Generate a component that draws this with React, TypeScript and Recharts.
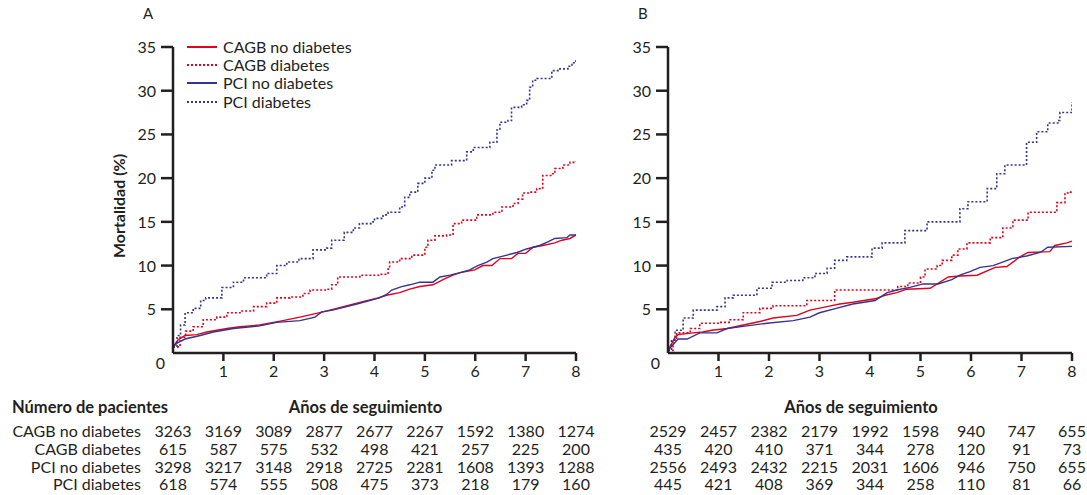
import { LineChart, Line, XAxis, YAxis, Label } from "recharts";

const FONT = "Lato, 'Noto Sans', sans-serif";
const INK = "#231f20";
const RED = "#e2001a";
const BLUE = "#34348f";

const yTicks = [0, 5, 10, 15, 20, 25, 30, 35];
const xTicks = [1, 2, 3, 4, 5, 6, 7, 8];
const years = [0, 1, 2, 3, 4, 5, 6, 7, 8];
const seriesNames = ["CAGB no diabetes", "CAGB diabetes", "PCI no diabetes", "PCI diabetes"];

// panel A: [años, mortalidad %]
const cagbNoDmA = [
  [0, 0.7], [0.1, 1.5], [0.24, 2.0], [0.47, 2.1], [0.67, 2.4], [1.07, 2.8], [1.33, 3.0], [1.72, 3.2],
  [2.18, 3.7], [2.52, 4.1], [2.98, 4.7], [3.65, 5.7], [4.07, 6.3], [4.24, 6.6], [4.5, 6.9], [4.7, 7.3],
  [4.9, 7.6], [5.16, 7.8], [5.4, 8.5], [5.56, 8.9], [5.7, 9.2], [5.99, 9.5], [6.15, 10.0], [6.33, 10.0],
  [6.49, 10.8], [6.72, 10.8], [6.85, 11.4], [7.0, 11.4], [7.15, 12.1], [7.34, 12.3], [7.58, 12.6],
  [7.72, 12.9], [7.88, 13.1], [8.0, 13.5],
];
const cagbDmA = [
  [0, 0.7], [0.14, 1.8], [0.25, 2.5], [0.4, 3.0], [0.6, 3.8], [0.87, 4.1], [1.07, 4.6], [1.33, 4.8],
  [1.6, 5.3], [1.86, 5.7], [2.06, 6.3], [2.32, 6.4], [2.58, 6.8], [2.72, 7.2], [3.08, 7.3], [3.15, 7.8],
  [3.27, 8.7], [3.71, 8.9], [4.1, 9.0], [4.27, 9.6], [4.3, 10.4], [4.5, 10.8], [4.74, 11.2], [5.0, 12.1],
  [5.06, 12.9], [5.2, 13.4], [5.43, 13.5], [5.56, 14.8], [5.73, 15.2], [6.03, 15.8], [6.35, 16.1],
  [6.53, 16.7], [6.75, 17.1], [6.85, 17.6], [6.94, 18.3], [7.08, 18.4], [7.22, 18.8], [7.34, 20.3],
  [7.52, 20.5], [7.58, 21.1], [7.74, 21.5], [7.88, 21.8], [8.0, 21.9],
];
const pciNoDmA = [
  [0, 0.7], [0.1, 1.2], [0.24, 1.6], [0.54, 2.0], [0.8, 2.4], [1.2, 2.8], [1.72, 3.1], [2.06, 3.5],
  [2.52, 3.7], [2.82, 4.1], [2.95, 4.7], [3.17, 4.9], [3.65, 5.6], [4.1, 6.3], [4.24, 6.7], [4.34, 7.2],
  [4.54, 7.6], [4.7, 7.8], [4.9, 8.1], [5.16, 8.1], [5.3, 8.7], [5.5, 8.9], [5.7, 9.2], [5.89, 9.5],
  [6.05, 10.0], [6.23, 10.4], [6.35, 10.8], [6.63, 11.2], [6.83, 11.5], [7.02, 11.9], [7.28, 12.3],
  [7.44, 12.7], [7.58, 13.1], [7.82, 13.2], [7.88, 13.5], [8.0, 13.5],
];
const pciDmA = [
  [0, 0.7], [0.08, 2.0], [0.15, 3.2], [0.24, 4.6], [0.4, 5.1], [0.55, 6.0], [0.65, 6.3], [0.97, 7.5],
  [1.2, 8.1], [1.4, 8.6], [1.86, 9.1], [2.06, 10.0], [2.26, 10.4], [2.5, 10.8], [2.78, 11.8], [3.05, 12.0],
  [3.15, 12.9], [3.4, 13.8], [3.58, 14.3], [3.7, 14.8], [3.97, 15.0], [4.0, 15.4], [4.17, 15.8],
  [4.27, 16.1], [4.5, 16.7], [4.6, 17.8], [4.7, 18.4], [4.86, 19.4], [5.0, 20.0], [5.14, 20.9],
  [5.2, 21.5], [5.53, 22.0], [5.83, 23.0], [5.96, 23.5], [6.29, 24.1], [6.43, 25.5], [6.49, 26.4],
  [6.65, 26.6], [6.72, 28.1], [6.92, 28.4], [7.02, 28.9], [7.08, 30.4], [7.14, 31.2], [7.22, 31.4],
  [7.52, 32.3], [7.68, 32.5], [7.84, 32.8], [7.92, 33.2], [8.0, 33.7],
];

// panel B
const cagbNoDmB = [
  [0, 0.3], [0.14, 1.8], [0.2, 2.1], [0.5, 2.3], [0.69, 2.4], [0.87, 2.6], [1.17, 2.8], [1.49, 3.2],
  [1.82, 3.6], [2.08, 4.0], [2.55, 4.3], [2.81, 4.9], [3.15, 5.3], [3.4, 5.6], [3.66, 5.8], [4.1, 6.2],
  [4.3, 6.6], [4.53, 6.9], [4.73, 7.3], [5.19, 7.4], [5.55, 8.7], [5.78, 8.8], [6.12, 8.9], [6.48, 9.8],
  [6.71, 9.9], [6.97, 11.0], [7.13, 11.5], [7.56, 11.6], [7.66, 12.3], [7.9, 12.6], [8.0, 12.8],
];
const cagbDmB = [
  [0, 0.3], [0.1, 1.5], [0.17, 2.3], [0.44, 2.8], [0.63, 3.4], [1.03, 3.5], [1.23, 3.8], [1.49, 4.6],
  [1.82, 5.1], [2.08, 5.4], [2.75, 6.0], [3.3, 7.2], [4.55, 7.6], [4.75, 8.0], [5.0, 8.7], [5.09, 9.6],
  [5.33, 10.0], [5.43, 10.6], [5.62, 11.2], [5.74, 11.9], [5.92, 12.6], [6.38, 13.2], [6.63, 14.3],
  [6.83, 15.2], [7.13, 16.1], [7.7, 17.2], [7.86, 18.3], [7.92, 18.4], [8.0, 18.6],
];
const pciNoDmB = [
  [0, 0.3], [0.2, 1.6], [0.38, 1.6], [0.63, 2.3], [0.97, 2.3], [1.17, 2.8], [1.56, 3.1], [1.96, 3.4],
  [2.48, 3.7], [2.81, 4.1], [3.0, 4.6], [3.33, 5.1], [3.66, 5.6], [4.1, 6.0], [4.34, 6.9], [4.53, 7.2],
  [4.79, 7.5], [5.05, 7.9], [5.35, 7.9], [5.62, 8.4], [5.78, 8.9], [5.98, 9.3], [6.18, 9.8], [6.44, 10.0],
  [6.81, 10.8], [7.1, 11.1], [7.37, 11.5], [7.52, 12.1], [8.0, 12.2],
];
const pciDmB = [
  [0, 0.3], [0.07, 1.5], [0.14, 2.6], [0.3, 4.0], [0.5, 4.9], [0.97, 5.3], [1.13, 6.3], [1.29, 6.6],
  [1.76, 7.4], [2.06, 8.1], [2.36, 8.3], [2.67, 8.6], [2.91, 9.1], [3.15, 9.7], [3.3, 10.6], [3.54, 11.0],
  [4.04, 12.0], [4.24, 12.6], [4.69, 14.0], [5.13, 15.0], [5.78, 16.5], [5.94, 17.3], [6.32, 18.8],
  [6.51, 20.5], [6.67, 21.5], [7.1, 24.1], [7.3, 25.3], [7.52, 26.3], [7.72, 26.6], [7.76, 27.5], [8.0, 28.7],
];

// número de pacientes por año
const nCagbNoDmA = [3263, 3169, 3089, 2877, 2677, 2267, 1592, 1380, 1274];
const nCagbDmA = [615, 587, 575, 532, 498, 421, 257, 225, 200];
const nPciNoDmA = [3298, 3217, 3148, 2918, 2725, 2281, 1608, 1393, 1288];
const nPciDmA = [618, 574, 555, 508, 475, 373, 218, 179, 160];
const nCagbNoDmB = [2529, 2457, 2382, 2179, 1992, 1598, 940, 747, 655];
const nCagbDmB = [435, 420, 410, 371, 344, 278, 120, 91, 73];
const nPciNoDmB = [2556, 2493, 2432, 2215, 2031, 1606, 946, 750, 655];
const nPciDmB = [445, 421, 408, 369, 344, 258, 110, 81, 66];

const pts = (a: number[][]) => a.map(([t, v]) => ({ t, v }));
const styles = [
  { stroke: RED, dash: undefined, type: "linear" },
  { stroke: RED, dash: "2 2", type: "stepAfter" },
  { stroke: BLUE, dash: undefined, type: "linear" },
  { stroke: BLUE, dash: "2 2", type: "stepAfter" },
];

const YTick = (props: any) => {
  const { x, y, payload } = props;
  const txt = { fill: INK, fontSize: 16, fontFamily: FONT };
  if (payload.value === 0)
    return <text x={x + 9} y={y + 16} textAnchor="end" {...txt}>0</text>;
  return (
    <g>
      <line x1={x + 5} x2={x + 17} y1={y} y2={y} stroke={INK} strokeWidth={2.5} />
      <text x={x} y={y + 6} textAnchor="end" {...txt}>{payload.value}</text>
    </g>
  );
};

function LegendBox() {
  return (
    <div style={{ position: "absolute", left: 187, top: 38, fontFamily: FONT, fontSize: 16, color: INK, lineHeight: "18px" }}>
      {seriesNames.map((n, i) => (
        <div key={n} style={{ display: "flex", alignItems: "center", height: 18.2 }}>
          <svg width={36} height={18}>
            <line x1={0} x2={30} y1={9} y2={9} stroke={styles[i].stroke} strokeWidth={2} strokeDasharray={styles[i].dash} />
          </svg>
          <span>{n}</span>
        </div>
      ))}
    </div>
  );
}

function Panel({ curves, left, width, right, letter, legend }: any) {
  return (
    <div style={{ position: "absolute", left, top: 0 }}>
      <LineChart width={width} height={400} margin={{ top: 47, right, left: 100, bottom: 0 }}>
        <XAxis dataKey="t" type="number" domain={[0, 8]} ticks={xTicks} allowDataOverflow height={47}
          axisLine={{ stroke: INK, strokeWidth: 2.5 }} tickLine={{ stroke: INK, strokeWidth: 2.5 }}
          tickSize={8} tickMargin={5} tick={{ fill: INK, fontSize: 16, fontFamily: FONT }} />
        <YAxis type="number" domain={[0, 35]} ticks={yTicks} width={73} interval={0}
          axisLine={{ stroke: INK, strokeWidth: 2.5 }} tickLine={false} tickSize={12} tickMargin={5}
          tick={<YTick />}>
          {legend && (
            <Label content={(p: any) => {
              const vb = p.viewBox;
              const cx = vb.x + 18;
              const cy = vb.y + vb.height / 2 + 6;
              return (
                <text x={cx} y={cy} transform={`rotate(-90 ${cx} ${cy})`} textAnchor="middle" dominantBaseline="central"
                  fill={INK} fontSize={16} fontWeight={700} fontFamily={FONT}>Mortalidad  (%)</text>
              );
            }} />
          )}
        </YAxis>
        {curves.map((c: number[][], i: number) => (
          <Line key={seriesNames[i]} name={seriesNames[i]} data={pts(c)} dataKey="v" type={styles[i].type as any}
            stroke={styles[i].stroke} strokeWidth={styles[i].dash ? 1.6 : 1.4} strokeDasharray={styles[i].dash}
            dot={false} activeDot={false} isAnimationActive={false} />
        ))}
      </LineChart>
      {legend && <LegendBox />}
      <div style={{ position: "absolute", left: 143, top: 4, fontFamily: FONT, fontSize: 15, color: INK }}>{letter}</div>
    </div>
  );
}

function CountTable({ rows, plotLeft, plotWidth, labels }: any) {
  const colX = (k: number) => plotLeft + (k * plotWidth) / 8;
  const base = [437, 455, 473, 490];
  return (
    <g fontFamily={FONT} fill={INK}>
      <text x={plotLeft + plotWidth / 2 - 9} y={413} textAnchor="middle" fontSize={16.5} fontWeight={700}>Años de seguimiento</text>
      {rows.map((r: number[], ri: number) => (
        <g key={ri}>
          {labels && <text x={141} y={base[ri]} textAnchor="end" fontSize={16}>{seriesNames[ri]}</text>}
          {years.map((k) => (
            <text key={k} x={colX(k)} y={base[ri]} textAnchor="middle" fontSize={16}>{r[k]}</text>
          ))}
        </g>
      ))}
    </g>
  );
}

export default function App() {
  return (
    <div style={{ position: "absolute", left: 0, top: 0, width: 1087, height: 495, overflow: "hidden", background: "#fff" }}>
      <Panel curves={[cagbNoDmA, cagbDmA, pciNoDmA, pciDmA]} left={0} width={600} right={24} letter="A" legend />
      <Panel curves={[cagbNoDmB, cagbDmB, pciNoDmB, pciDmB]} left={495} width={592} right={15} letter="B" legend={false} />
      <svg width={1087} height={495} style={{ position: "absolute", left: 0, top: 0, pointerEvents: "none" }}>
        <text x={12} y={413} fontFamily={FONT} fontSize={16.5} fontWeight={700} fill={INK}>Número de pacientes</text>
        <CountTable rows={[nCagbNoDmA, nCagbDmA, nPciNoDmA, nPciDmA]} plotLeft={173} plotWidth={403} labels />
        <CountTable rows={[nCagbNoDmB, nCagbDmB, nPciNoDmB, nPciDmB]} plotLeft={668} plotWidth={404} labels={false} />
      </svg>
    </div>
  );
}
